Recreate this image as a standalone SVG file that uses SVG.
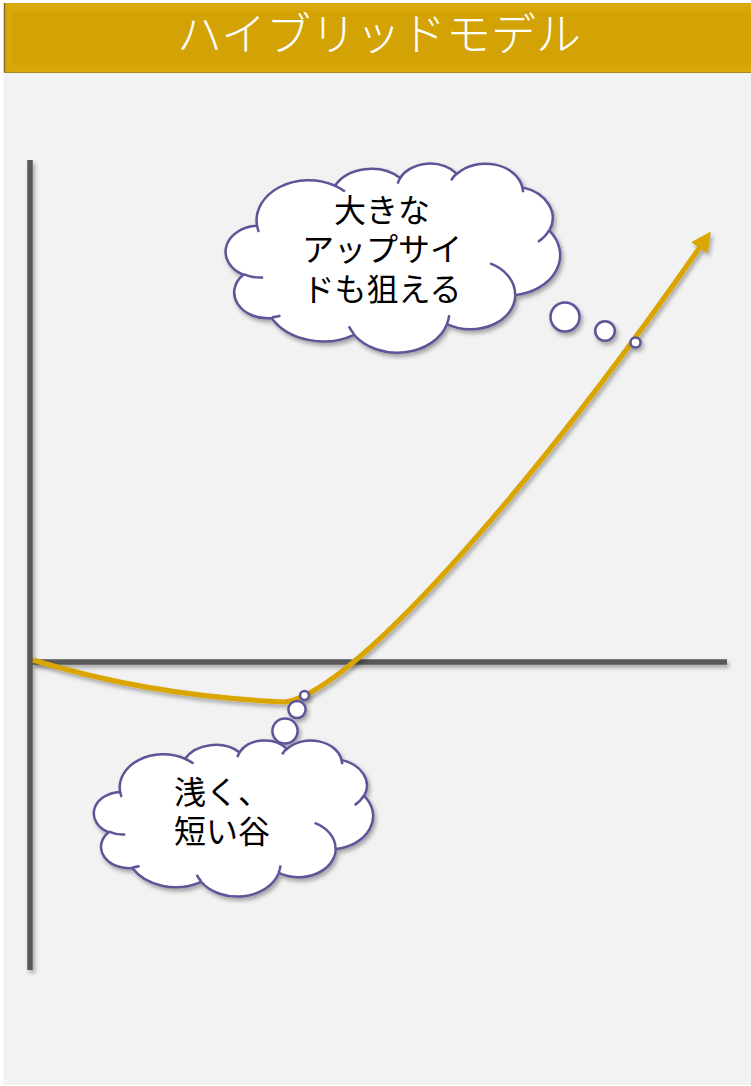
<svg xmlns="http://www.w3.org/2000/svg" width="751" height="1086" viewBox="0 0 751 1086">
  <style>
    .cjk { font-family: 'Liberation Sans', 'Noto Sans CJK JP', sans-serif; }
    .cloud { fill: #FFFFFF; stroke: #5B5597; stroke-width: 2.5; }
    .stub { fill: none; stroke: #5B5597; stroke-width: 2.5; }
    .bubble { fill: #FFFFFF; stroke: #5B5597; stroke-width: 2.5; }
    .label { font-size: 32px; fill: #000000; text-anchor: middle; }
    .axis { stroke: #595959; stroke-width: 5.5; fill: none; }
  </style>
  <defs>
    <filter id="shadow" x="-20%" y="-20%" width="140%" height="140%">
      <feDropShadow dx="2" dy="3" stdDeviation="2.2" flood-color="#000000" flood-opacity="0.33"/>
    </filter>
    <marker id="arrow" markerUnits="userSpaceOnUse" markerWidth="20" markerHeight="20" viewBox="0 0 18 18" refX="1" refY="9" orient="auto">
      <path d="M0,0 L18,9 L0,18 Z" fill="#DBA501"/>
    </marker>
    <path id="cloudShape" vector-effect="non-scaling-stroke" d="M3900,14370 A6753,9190 0 0 1 14005,5202 A5333,7267 0 0 1 22457,3432 A4365,5945 0 0 1 29834,2481 A4857,6595 0 0 1 38319,5576 A5333,7273 0 0 1 41819,15460 A6775,9220 0 0 1 37404,30201 A5785,7867 0 0 1 28556,36811 A6752,9215 0 0 1 16481,39265 A7720,10543 0 0 1 5805,35470 A4360,5918 0 0 1 2113,25549 A4345,5945 0 0 1 3900,14370 Z"/>
    <path id="cloudStubs" vector-effect="non-scaling-stroke" d="M4693,26177 A4345,5945 0 0 1 2160,25380 M6928,34899 A4360,5918 0 0 1 5820,35280 M16478,39090 A6752,9215 0 0 1 15809,37347 M28827,34751 A6752,9215 0 0 1 28560,36660 M34129,22954 A5785,7867 0 0 1 37380,30090 M41798,15354 A5333,7273 0 0 1 40350,18030 M38324,5426 A4857,6595 0 0 1 38401,6690 M29078,3952 A4857,6595 0 0 1 29820,2340 M22141,4720 A4365,5945 0 0 1 22500,3330 M14000,5192 A6753,9190 0 0 1 15300,6541 M4127,15789 A6753,9190 0 0 1 3900,14371"/>
  </defs>

  <!-- page background -->
  <rect x="0" y="0" width="751" height="1086" fill="#FFFFFF"/>
  <rect x="3.5" y="73" width="747.5" height="1012" fill="#F2F2F2"/>

  <!-- title bar -->
  <g id="title">
    <rect x="4" y="3" width="747" height="70" fill="#DAA80A"/>
    <rect x="12" y="11" width="739" height="54" fill="#D3A204"/>
    <line x1="4.5" y1="3" x2="4.5" y2="73" stroke="#8A6B1C" stroke-width="1.5"/>
    <line x1="4" y1="72.5" x2="751" y2="72.5" stroke="#A68829" stroke-width="1"/>
    <text class="cjk" x="379" y="51" font-size="45" font-weight="300" fill="#FFFFFF" text-anchor="middle">ハイブリッドモデル</text>
  </g>

  <!-- axes -->
  <g id="axes" filter="url(#shadow)">
    <line class="axis" x1="30" y1="160" x2="30" y2="970"/>
    <line class="axis" x1="30" y1="662" x2="727" y2="662"/>
  </g>

  <!-- connectors: the growth curve -->
  <g id="connectors" filter="url(#shadow)">
    <path d="M33,660 Q150,696 285,702 C360,690 552,460 700,247" fill="none" stroke="#DBA501" stroke-width="5" marker-end="url(#arrow)"/>
  </g>

  <!-- cloud: upside -->
  <g id="cloud-upside">
    <g filter="url(#shadow)">
      <g transform="translate(227,163) scale(0.0077083,0.004375)">
        <use href="#cloudShape" class="cloud"/>
        <use href="#cloudStubs" class="stub"/>
      </g>
      <circle class="bubble" cx="565" cy="317" r="14.5"/>
      <circle class="bubble" cx="605" cy="331" r="9.8"/>
      <circle class="bubble" cx="635.5" cy="342.5" r="5"/>
    </g>
    <text class="cjk label" x="382" y="222">大きな</text>
    <text class="cjk label" x="382" y="261">アップサイ</text>
    <text class="cjk label" x="382" y="301">ドも狙える</text>
  </g>

  <!-- cloud: valley -->
  <g id="cloud-valley">
    <g filter="url(#shadow)">
      <g transform="translate(95,740) scale(0.0064352,0.0036111)">
        <use href="#cloudShape" class="cloud"/>
        <use href="#cloudStubs" class="stub"/>
      </g>
      <circle class="bubble" cx="285" cy="731" r="12.6"/>
      <circle class="bubble" cx="297" cy="709.5" r="8.6"/>
      <circle class="bubble" cx="304.5" cy="695.5" r="4.4"/>
    </g>
    <text class="cjk label" x="222" y="804">浅く、</text>
    <text class="cjk label" x="222" y="843">短い谷</text>
  </g>
</svg>
